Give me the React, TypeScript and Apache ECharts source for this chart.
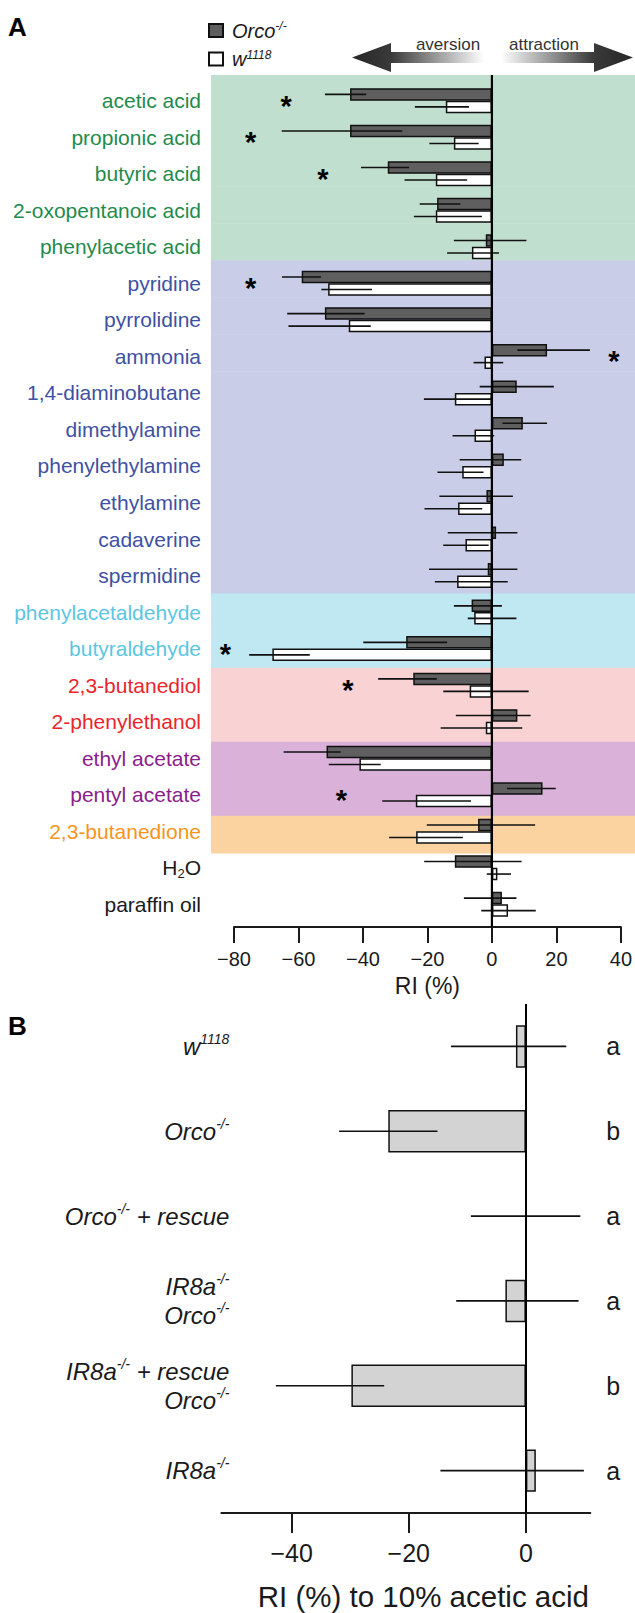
import React, { useEffect, useRef } from "react";
import * as echarts from "echarts";

const FONT = '"Liberation Sans", Arial, Helvetica, sans-serif';
const INK = "#1a1a1a";

// ---------- Panel A data ----------
const categories = [
  "acetic acid", "propionic acid", "butyric acid", "2-oxopentanoic acid", "phenylacetic acid",
  "pyridine", "pyrrolidine", "ammonia", "1,4-diaminobutane", "dimethylamine", "phenylethylamine",
  "ethylamine", "cadaverine", "spermidine", "phenylacetaldehyde", "butyraldehyde", "2,3-butanediol",
  "2-phenylethanol", "ethyl acetate", "pentyl acetate", "2,3-butanedione", "H2O", "paraffin oil",
];
const categoryGroups = [0, 0, 0, 0, 0, 1, 1, 1, 1, 1, 1, 1, 1, 1, 2, 2, 3, 3, 4, 4, 5, 6, 6];
const groupLabelColors = ["#1f8b4c", "#3e51a2", "#5cc6e3", "#e8262b", "#8b1d8c", "#f6951e", INK];
const groupBandColors = ["#c0dfcf", "#c9cde8", "#c0e8f2", "#f9d3d4", "#d9b1d9", "#fad3a1", ""];
// horizontal extent of the coloured bands, in RI (%) units
const bandExtent = [-87.04, 42.86];
// vertical extent of the zero line, in category units (0 = first category centre)
const zeroLineSpan = [-0.70, 22.62];

const orcoMean = [-44, -44, -32.3, -17, -1.9, -59, -51.8, 17.1, 7.7, 9.6, 3.7, -1.7, 1.3, -1.3, -6.3, -26.6, -24.4, 7.9, -51.3, 15.7, -4.3, -11.5, 3.1];
const orcoLow = [-51.8, -65.2, -40.6, -22.4, -11.8, -65.1, -63.5, 7.9, -3.8, 3.3, -10, -16.3, -13.7, -19.5, -11.8, -39.9, -35.3, -11.2, -64.6, 4.7, -20.2, -21, -8.7];
const orcoHigh = [-39, -27.8, -25.7, -9.8, 10.7, -53, -39.5, 30.4, 19.2, 17.1, 9.1, 6.5, 7.9, 7.9, 3.1, -13.9, -17.1, 12, -46.9, 19.8, 13.4, 9.2, 7.6];
const wMean = [-14.3, -11.8, -17.4, -17.4, -6.2, -50.8, -44.4, -2.3, -11.5, -5.4, -9.2, -10.5, -8.2, -10.8, -5.5, -68.1, -6.9, -1.9, -41.1, -23.6, -23.5, 1.7, 5.0];
const wLow = [-23.9, -19.4, -27.1, -24.2, -13.9, -52.9, -63.1, -5.7, -21.1, -12.2, -16.9, -20.9, -15.1, -17.7, -7.5, -75.3, -15.1, -15.9, -50.6, -34, -31.9, -1.6, -3.3];
const wHigh = [-7.1, -4.1, -7.7, -3.1, 2.2, -37.2, -37.6, 3.5, 0, 0.7, -2.6, -3, -1, 4.9, 7.6, -56.5, 11.4, 9.4, -34.5, -6.5, -9, 5.9, 13.6];
// significance stars: [x position (RI %), category index]
const starPoints = [[-63.8, 0], [-74.8, 1], [-52.4, 2], [-74.8, 5], [37.8, 7], [-82.7, 15], [-44.7, 16], [-46.7, 19]];
const xTicksA = { min: -80, max: 40, interval: 20 };

// ---------- Panel B data ----------
const genotypes = ["w1118", "Orco-/-", "Orco-/- + rescue", "IR8a-/-\nOrco-/-", "IR8a-/- + rescue\nOrco-/-", "IR8a-/-"];
const bMean = [-1.7, -23.5, 0, -3.5, -29.8, 1.7];
const bLow = [-12.8, -31.9, -9.4, -11.9, -42.7, -14.6];
const bHigh = [6.9, -15.1, 9.3, 9.0, -24.2, 9.9];
const bLetters = ["a", "b", "a", "a", "b", "a"];
const xTicksB = [-40, -20, 0];

const minus = (v: number) => (v < 0 ? "\u2212" + Math.abs(v) : String(v));

function toRich(label: string) {
  return label
    .split("\n")
    .map((line) =>
      line
        .split(/(-\/-|1118)/)
        .filter((p) => p.length > 0)
        .map((p) => (p === "-/-" || p === "1118" ? `{s|${p}}` : `{i|${p}}`))
        .join("")
    )
    .join("\n");
}

export default function App() {
  const ref = useRef<HTMLDivElement>(null);
  useEffect(() => {
    document.body.style.margin = "0";
    const chart = echarts.init(ref.current!, undefined, { renderer: "svg" });
    const barOff = 6.25;
    const errRender = (off: number, color: string) => (params: any, api: any) => {
      const lo = api.value(0), idx = api.value(1), hi = api.value(2);
      const p1 = api.coord([lo, idx]);
      const p2 = api.coord([hi, idx]);
      return {
        type: "line",
        shape: { x1: p1[0], y1: p1[1] + off, x2: p2[0], y2: p2[1] + off },
        style: { stroke: color, lineWidth: 1.6 },
      };
    };

    const option: any = {
      animation: false,
      textStyle: { fontFamily: FONT },
      legend: {
        data: ["Orco", "w1118"],
        orient: "vertical",
        left: 203,
        top: 15,
        icon: "rect",
        itemWidth: 14,
        itemHeight: 13,
        itemGap: 8,
        selectedMode: false,
        formatter: (n: string) => (n === "Orco" ? "{i|Orco}{s|-/-}" : "{i|w}{s|1118}"),
        textStyle: {
          padding: [0, 0, 0, 4],
          rich: {
            i: { fontSize: 20, fontStyle: "italic", color: INK, lineHeight: 21, fontFamily: FONT },
            s: { fontSize: 12, fontStyle: "italic", color: INK, lineHeight: 14, verticalAlign: "top", fontFamily: FONT },
          },
        },
      },
      grid: [
        { left: 234, width: 392, top: 75, height: 852 },
        { left: 234, width: 392, top: 82.4, height: 840.2 },
        { left: 221.4, width: 368.9, top: 1004, height: 509 },
      ],
      xAxis: [
        { gridIndex: 0, type: "value", min: xTicksA.min, max: xTicksA.max, show: false },
        {
          gridIndex: 1, type: "value", min: xTicksA.min, max: xTicksA.max, interval: xTicksA.interval,
          offset: 4.5,
          axisLine: { show: true, onZero: false, lineStyle: { color: INK, width: 2 } },
          axisTick: { show: true, length: 16, lineStyle: { color: INK, width: 2 } },
          axisLabel: { fontSize: 20, color: INK, margin: 22, formatter: minus, fontFamily: FONT },
          splitLine: { show: false },
          name: "RI (%)", nameLocation: "middle", nameGap: 47,
          nameTextStyle: { fontSize: 23, color: INK, fontFamily: FONT },
        },
        {
          gridIndex: 2, type: "value", min: -52, max: 11,
          axisLine: { show: true, onZero: false, lineStyle: { color: INK, width: 2 } },
          axisTick: { show: true, length: 20, customValues: xTicksB, lineStyle: { color: INK, width: 2 } },
          axisLabel: { fontSize: 25, color: INK, margin: 27, customValues: xTicksB, formatter: minus, fontFamily: FONT },
          splitLine: { show: false },
          name: "RI (%) to 10% acetic acid", nameLocation: "middle", nameGap: 68,
          nameTextStyle: { fontSize: 29.5, color: INK, padding: [0, 0, 0, 35], fontFamily: FONT },
        },
      ],
      yAxis: [
        { gridIndex: 0, type: "category", data: categories.map((_, i) => String(i)), inverse: true, show: false },
        {
          gridIndex: 1, type: "category", data: categories, inverse: true,
          axisLine: { show: false }, axisTick: { show: false },
          axisLabel: {
            margin: 33, fontSize: 21, fontFamily: FONT,
            color: (_v: any, i: number) => groupLabelColors[categoryGroups[i]],
            formatter: (v: string) => (v === "H2O" ? "{m|H}{sub|2}{m|O}" : v),
            rich: {
              m: { fontSize: 21, color: INK, lineHeight: 24, fontFamily: FONT },
              sub: { fontSize: 13, color: INK, lineHeight: 13, verticalAlign: "bottom", fontFamily: FONT },
            },
          },
        },
        {
          gridIndex: 2, type: "category", data: genotypes, inverse: true,
          axisLine: { show: false }, axisTick: { show: false },
          axisLabel: {
            margin: -8, align: "right",
            formatter: (v: string) => toRich(v),
            rich: {
              i: { fontSize: 24, fontStyle: "italic", color: INK, lineHeight: 29, fontFamily: FONT },
              s: { fontSize: 14, fontStyle: "italic", color: INK, lineHeight: 20, verticalAlign: "top", fontFamily: FONT },
            },
          },
        },
        {
          gridIndex: 2, type: "category", data: genotypes, inverse: true, position: "right",
          axisLine: { show: false }, axisTick: { show: false },
          axisLabel: { margin: 16, fontSize: 25, color: INK, fontFamily: FONT, formatter: (_v: string, i: number) => bLetters[i] },
        },
      ],
      graphic: [
        { type: "text", left: 8, top: 14, style: { text: "A", font: `bold 26px ${FONT}`, fill: "#000" } },
        { type: "text", left: 8, top: 1013, style: { text: "B", font: `bold 26px ${FONT}`, fill: "#000" } },
        {
          type: "polygon",
          shape: {
            points: [[352, 57.5], [391, 43], [391, 52], [594, 52], [594, 43], [633, 57.5], [594, 72], [594, 63], [391, 63], [391, 72]],
          },
          style: {
            fill: new echarts.graphic.LinearGradient(0, 0, 1, 0, [
              { offset: 0, color: "#262626" },
              { offset: 0.14, color: "#3a3a3a" },
              { offset: 0.47, color: "#ffffff" },
              { offset: 0.53, color: "#ffffff" },
              { offset: 0.86, color: "#3a3a3a" },
              { offset: 1, color: "#262626" },
            ]),
          },
        },
        { type: "text", x: 448, y: 44, style: { text: "aversion", font: `17px ${FONT}`, fill: "#333", align: "center", verticalAlign: "middle" } },
        { type: "text", x: 544, y: 44, style: { text: "attraction", font: `17px ${FONT}`, fill: "#333", align: "center", verticalAlign: "middle" } },
      ],
      series: [
        {
          type: "custom", name: "bands", xAxisIndex: 0, yAxisIndex: 0, z: 0, silent: true,
          data: categories
            .map((_, i) => ({ value: [0, i], itemStyle: { color: groupBandColors[categoryGroups[i]] } }))
            .filter((d) => d.itemStyle.color !== ""),
          encode: { x: 0, y: 1 },
          renderItem: (params: any, api: any) => {
            const idx = api.value(1);
            const a = api.coord([bandExtent[0], idx]);
            const b = api.coord([bandExtent[1], idx]);
            const h = api.size([0, 1])[1];
            return {
              type: "rect",
              shape: { x: a[0], y: a[1] - h / 2, width: b[0] - a[0], height: h + 0.5 },
              style: { fill: api.visual("color") },
            };
          },
        },
        {
          type: "bar", name: "Orco", xAxisIndex: 1, yAxisIndex: 1, z: 2,
          data: orcoMean, barWidth: 12.5, barGap: "0%",
          itemStyle: { color: "#5f5f5f", borderColor: "#111", borderWidth: 1.5 },
        },
        {
          type: "bar", name: "w1118", xAxisIndex: 1, yAxisIndex: 1, z: 2,
          data: wMean, barWidth: 12.5, barGap: "0%",
          itemStyle: { color: "#ffffff", borderColor: "#111", borderWidth: 1.5 },
        },
        {
          type: "custom", name: "zero", xAxisIndex: 1, yAxisIndex: 1, z: 10, silent: true,
          data: [[0, 0]],
          encode: { x: 0, y: 1 },
          renderItem: (params: any, api: any) => {
            const c = api.coord([0, 0]);
            const h = api.size([0, 1])[1];
            return {
              type: "line",
              shape: { x1: c[0], y1: c[1] + zeroLineSpan[0] * h, x2: c[0], y2: c[1] + zeroLineSpan[1] * h },
              style: { stroke: "#000", lineWidth: 2.2 },
            };
          },
        },
        {
          type: "custom", name: "orcoErr", xAxisIndex: 1, yAxisIndex: 1, z: 4, silent: true,
          data: orcoMean.map((_, i) => [orcoLow[i], i, orcoHigh[i]]),
          encode: { x: [0, 2], y: 1 },
          renderItem: errRender(-barOff, "#111"),
        },
        {
          type: "custom", name: "wErr", xAxisIndex: 1, yAxisIndex: 1, z: 4, silent: true,
          data: wMean.map((_, i) => [wLow[i], i, wHigh[i]]),
          encode: { x: [0, 2], y: 1 },
          renderItem: errRender(barOff, "#111"),
        },
        {
          type: "custom", name: "stars", xAxisIndex: 1, yAxisIndex: 1, z: 5, silent: true,
          data: starPoints,
          encode: { x: 0, y: 1 },
          renderItem: (params: any, api: any) => {
            const p = api.coord([api.value(0), api.value(1)]);
            return {
              type: "text",
              x: p[0], y: p[1] + 5,
              style: { text: "*", font: `bold 29px ${FONT}`, fill: "#000", align: "center", verticalAlign: "middle" },
            };
          },
        },
        {
          type: "bar", name: "B", xAxisIndex: 2, yAxisIndex: 2, z: 2,
          data: bMean, barWidth: "50%",
          itemStyle: { color: "#d3d3d3", borderColor: "#111", borderWidth: 1.5 },
          markLine: {
            silent: true, symbol: "none", label: { show: false },
            lineStyle: { color: "#000", width: 2, type: "solid" },
            data: [{ xAxis: 0 }],
          },
        },
        {
          type: "custom", name: "bErr", xAxisIndex: 2, yAxisIndex: 2, z: 4, silent: true,
          data: bMean.map((_, i) => [bLow[i], i, bHigh[i]]),
          encode: { x: [0, 2], y: 1 },
          renderItem: errRender(0, "#111"),
        },
      ],
    };
    chart.setOption(option);
    return () => chart.dispose();
  }, []);
  return <div ref={ref} style={{ width: 635, height: 1613 }} />;
}
